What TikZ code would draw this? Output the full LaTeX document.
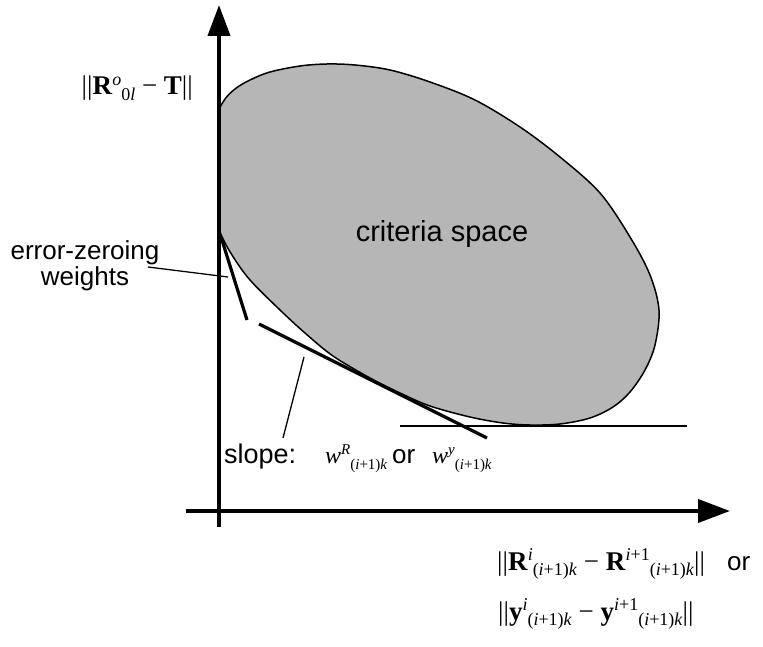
\documentclass[tikz,border=0pt]{standalone}
\usepackage{fontspec}
\setmainfont{Liberation Sans}
\newfontfamily\tms{Liberation Serif}
\usetikzlibrary{arrows.meta}
\definecolor{ellfill}{RGB}{182,182,182}
\newcommand{\SupT}[1]{\raisebox{0.37em}{\fontsize{18}{18}\selectfont #1}}
\newcommand{\SubT}[1]{\raisebox{-0.22em}{\fontsize{18}{18}\selectfont #1}}
\newcommand{\SupS}[1]{\raisebox{0.37em}{\fontsize{15}{15}\selectfont #1}}
\newcommand{\SubS}[1]{\raisebox{-0.25em}{\fontsize{15}{15}\selectfont #1}}
\newcommand{\mfont}{\fontsize{27}{30}\selectfont\tms}
\newcommand{\wfont}{\fontsize{24}{26}\selectfont\tms}
\newcommand{\sfont}{\fontsize{26}{28}\selectfont}
\begin{document}
\begin{tikzpicture}[x=1pt,y=-1pt,
  axis/.style={line width=4pt},
  thickline/.style={line width=3.2pt},
  leader/.style={line width=1.3pt},
  lab/.style={inner sep=0pt,anchor=base west},
  labc/.style={inner sep=0pt,anchor=base},
]
\useasboundingbox (0,0) rectangle (763,647);

% criteria space region
\begin{scope}
\clip (219,0) rectangle (763,647);
\draw[fill=ellfill,line width=1.5pt] plot[smooth cycle,tension=0.55] coordinates {
 (223,102) (235,89) (250,80) (270,72) (300,66) (327,64) (355,65) (390,70)
 (430,82) (475,100) (520,127) (560,157) (600,193) (630,237) (650,275)
 (659,310) (655,345) (645,370) (630,392) (613,407) (590,418) (560,424)
 (530,425) (503,423) (470,417) (430,406) (400,393) (370,378) (333,356)
 (305,333) (280,310) (250,280) (232,255) (220,232) (210,200) (207,165) (212,128)};
\end{scope}

% axes
\coordinate (yb) at (219,527);
\coordinate (yt) at (219,5);
\coordinate (xl) at (186,511);
\coordinate (xr) at (730,511);
\draw[axis,-{Triangle[length=31pt,width=22pt]}] (yb) -- (yt);
\draw[axis,-{Triangle[length=32pt,width=23pt]}] (xl) -- (xr);

% tangent lines
\coordinate (ez1) at (221,237);
\coordinate (ez2) at (247,320);
\coordinate (sl1) at (259,324);
\coordinate (sl2) at (487,438);
\coordinate (h1) at (400,426);
\coordinate (h2) at (687,426);
\draw[thickline] (ez1) -- (ez2);
\draw[thickline] (sl1) -- (sl2);
\draw[line width=2.6pt] (h1) -- (h2);

% labels
\node[labc] (crit) at (442,242) {\fontsize{29}{30}\selectfont criteria space};
\node[labc] (ezA) at (85,259) {\sfont error-zeroing};
\node[labc] (ezB) at (85,285) {\sfont weights};
\coordinate (ezl1) at (148,267);
\coordinate (ezl2) at (228,277);
\draw[leader] (ezl1) -- (ezl2);

\node[inner sep=0pt,anchor=base east] (ylab) at (193,95)
  {\mfont ||\textbf{R}\SupT{\textit{o}}\SubT{0\textit{l}} − \textbf{T}||};

\node[lab] (slope) at (224,463) {\fontsize{27}{28}\selectfont slope:};
\node[lab] (wR) at (325,463) {\wfont\textit{w}\SupS{\textit{R}}\SubS{(\textit{i}+1)\textit{k}}};
\node[lab] (or1) at (392,463) {\fontsize{26}{28}\selectfont or};
\node[lab] (wy) at (432,463) {\wfont\textit{w}\SupS{\textit{y}}\SubS{(\textit{i}+1)\textit{k}}};
\coordinate (sll1) at (304,357);
\coordinate (sll2) at (283,438);
\draw[leader] (sll1) -- (sll2);

\node[lab] (xlab1) at (497,570)
  {\mfont ||\textbf{R}\SupT{\textit{i}}\SubT{(\textit{i}+1)\textit{k}} − \textbf{R}\SupT{\textit{i}+1}\SubT{(\textit{i}+1)\textit{k}}||};
\node[lab] (or2) at (727,570) {\sfont or};
\node[lab] (xlab2) at (498,620)
  {\mfont ||\textbf{y}\SupT{\textit{i}}\SubT{(\textit{i}+1)\textit{k}} − \textbf{y}\SupT{\textit{i}+1}\SubT{(\textit{i}+1)\textit{k}}||};
\end{tikzpicture}
\end{document}
